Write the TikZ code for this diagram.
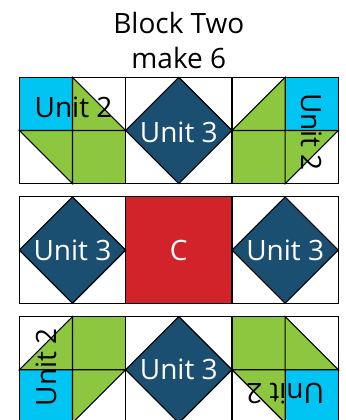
\documentclass[tikz,border=0pt]{standalone}
\usepackage{fontspec}
\setmainfont{Open Sans}
\usepackage{tikz}
\usetikzlibrary{positioning}

\definecolor{unitcyan}{RGB}{0,197,243}
\definecolor{unitgreen}{RGB}{141,198,63}
\definecolor{unitnavy}{RGB}{27,79,114}
\definecolor{unitred}{RGB}{210,35,42}

\begin{document}
\begin{tikzpicture}[x=53.17pt, y=-53.17pt, line width=1.1pt, line join=miter]

\tikzset{
  patch/.style={draw=black},
  cyanpatch/.style={patch, fill=unitcyan},
  greenpatch/.style={patch, fill=unitgreen},
  navypatch/.style={patch, fill=unitnavy},
  redpatch/.style={patch, fill=unitred},
  lbl/.style={inner sep=0pt, font=\fontsize{28}{34}\selectfont},
  darklbl/.style={lbl, text=black},
  lightlbl/.style={lbl, text=white},
}

\useasboundingbox (-0.363,-1.454) rectangle (6.144,6.445);

\node[darklbl, anchor=base] (title) at (3,-0.833) {Block Two};
\node[darklbl, anchor=base] (make) at (3,-0.175) {make 6};

\draw[patch] (0,0) rectangle (6,2) (0,1) -- (6,1);
\foreach \c in {1,...,5}
  \draw[patch] (\c,0) -- (\c,2);
\draw[cyanpatch] (0,0) rectangle (1,1);
\draw[cyanpatch] (5,0) rectangle (6,1);
\draw[greenpatch] (1,1) rectangle (2,2);
\draw[greenpatch] (4,1) rectangle (5,2);
\draw[greenpatch] (1,0) -- (1,1) -- (2,1) -- cycle;
\draw[greenpatch] (0,1) -- (1,1) -- (1,2) -- cycle;
\draw[greenpatch] (4,1) -- (5,1) -- (5,0) -- cycle;
\draw[greenpatch] (5,1) -- (6,1) -- (5,2) -- cycle;
\draw[navypatch] (3,0) -- (2,1) -- (3,2) -- (4,1) -- cycle;

\draw[patch] (0,2.25) rectangle (6,4.25);
\draw[redpatch] (2,2.25) rectangle (4,4.25);
\draw[navypatch] (1,2.25) -- (0,3.25) -- (1,4.25) -- (2,3.25) -- cycle;
\draw[navypatch] (5,2.25) -- (4,3.25) -- (5,4.25) -- (6,3.25) -- cycle;

\draw[patch] (0,4.5) rectangle (6,6.5) (0,5.5) -- (6,5.5);
\foreach \c in {1,...,5}
  \draw[patch] (\c,4.5) -- (\c,6.5);
\draw[cyanpatch] (0,5.5) rectangle (1,6.5);
\draw[cyanpatch] (5,5.5) rectangle (6,6.5);
\draw[greenpatch] (1,4.5) rectangle (2,5.5);
\draw[greenpatch] (4,4.5) rectangle (5,5.5);
\draw[greenpatch] (0,5.5) -- (1,5.5) -- (1,4.5) -- cycle;
\draw[greenpatch] (1,5.5) -- (2,5.5) -- (1,6.5) -- cycle;
\draw[greenpatch] (5,4.5) -- (5,5.5) -- (6,5.5) -- cycle;
\draw[greenpatch] (4,5.5) -- (5,5.5) -- (5,6.5) -- cycle;
\draw[navypatch] (3,4.5) -- (2,5.5) -- (3,6.5) -- (4,5.5) -- cycle;

\node[darklbl] (topleft) at (1.02,0.57) {Unit 2};
\node[lightlbl] (topmid) at (3,1.03) {Unit 3};
\node[darklbl, rotate=-90] (topright) at (5.5,1.03) {Unit 2};

\node[lightlbl] (midleft) at (1,3.25) {Unit 3};
\node[lightlbl] (center) at (3,3.25) {C};
\node[lightlbl] (midright) at (5,3.25) {Unit 3};

\node[darklbl, rotate=90] (bottomleft) at (0.5,5.45) {Unit 2};
\node[lightlbl] (bottommid) at (3,5.5) {Unit 3};
\node[darklbl, rotate=180] (bottomright) at (5,5.94) {Unit 2};

\end{tikzpicture}
\end{document}
